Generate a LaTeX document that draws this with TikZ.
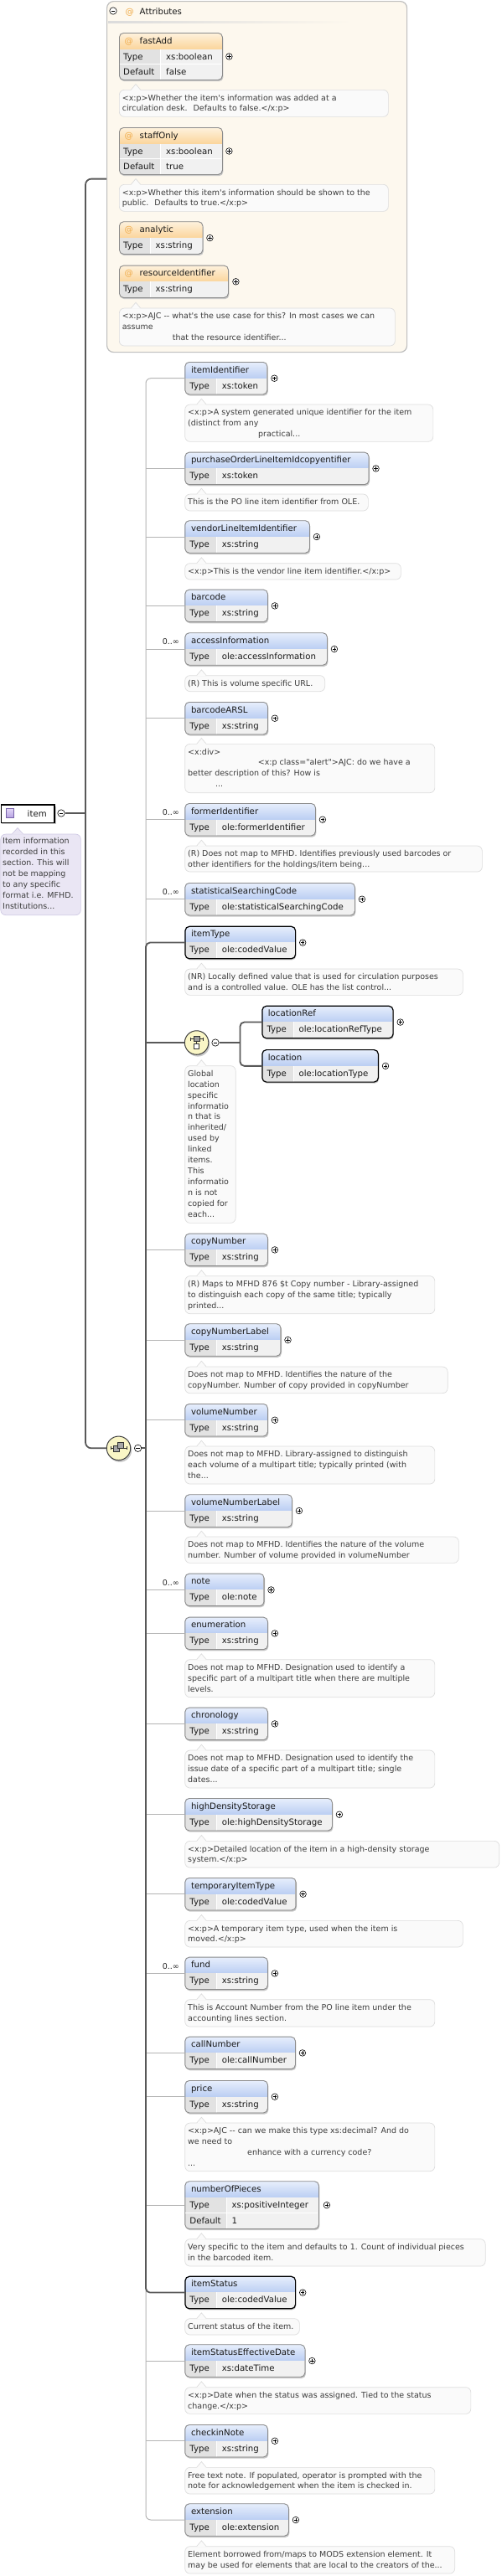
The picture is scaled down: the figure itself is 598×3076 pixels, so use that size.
\documentclass[tikz,border=0pt]{standalone}
\usepackage{fontspec}
\newfontfamily\dv{DejaVu Sans}
\usetikzlibrary{calc}
\definecolor{hdrTop}{RGB}{232,239,252}
\definecolor{hdrBot}{RGB}{188,207,243}
\definecolor{atTop}{RGB}{254,242,222}
\definecolor{atBot}{RGB}{251,214,158}
\definecolor{typec}{RGB}{226,226,226}
\definecolor{valc}{RGB}{241,241,241}
\definecolor{elemB}{RGB}{140,140,140}
\definecolor{shadowc}{RGB}{200,200,200}
\definecolor{descF}{RGB}{250,250,250}
\definecolor{descB}{RGB}{221,221,221}
\definecolor{descT}{RGB}{60,60,60}
\definecolor{attrF}{RGB}{253,248,238}
\definecolor{attrB}{RGB}{190,190,190}
\definecolor{idescF}{RGB}{234,230,244}
\definecolor{idescB}{RGB}{208,202,228}
\definecolor{connc}{RGB}{180,180,180}
\definecolor{trunkc}{RGB}{88,88,88}
\definecolor{choiceF}{RGB}{250,246,198}
\definecolor{atc}{RGB}{240,170,70}
\definecolor{purpT}{RGB}{226,214,246}
\definecolor{purpB}{RGB}{182,162,226}
\definecolor{purpD}{RGB}{120,100,170}

\newcommand\nfs{\dv\fontsize{10.2}{12.4}\selectfont}
\newcommand\dfs{\dv\fontsize{9.5}{12.9}\selectfont}
\newcommand\dl[1]{\hbox{#1}}

\tikzset{
  nf/.style={font=\nfs, anchor=base west, inner sep=0, text=black!90},
  conn/.style={draw=connc, line width=1},
  trunk/.style={draw=trunkc, line width=1.8},
  optb/.style={draw=elemB, line width=0.9},
  reqb/.style={draw=black, line width=1.2},
  hdrE/.style={top color=hdrTop, bottom color=hdrBot},
  hdrA/.style={top color=atTop, bottom color=atBot},
  plusc/.style={circle, draw=black, line width=0.6, inner sep=0, minimum size=7.6, fill=white,
    path picture={\draw[line width=0.6] ([xshift=-2.2pt]path picture bounding box.center) -- ([xshift=2.2pt]path picture bounding box.center);
                  \draw[line width=0.6] ([yshift=-2.2pt]path picture bounding box.center) -- ([yshift=2.2pt]path picture bounding box.center);}},
  minusc/.style={circle, draw=black, line width=0.6, inner sep=0, minimum size=8.4, fill=white,
    path picture={\draw[line width=0.7] ([xshift=-2.4pt]path picture bounding box.center) -- ([xshift=2.4pt]path picture bounding box.center);}},
  descbox/.style={draw=descB, fill=descF, line width=0.7, rounded corners=6, inner sep=0},
  idescbox/.style={draw=idescB, fill=idescF, line width=0.7, rounded corners=6, inner sep=0},
  iconc/.style={circle, draw=black!75, line width=1, fill=choiceF, minimum size=28.5, inner sep=0},
}

% #1 name #2 L #3 T #4 R #5 B #6 divider #7 header shading #8 border
\newcommand{\ebox}[8]{%
  \fill[shadowc, rounded corners=5, xshift=1.4pt, yshift=-2.2pt] (#2,#3) rectangle (#4,#5);
  \begin{scope}
    \clip[rounded corners=5] (#2,#3) rectangle (#4,#5);
    \fill[valc] (#2,#3) rectangle (#4,#5);
    \fill[typec] (#2,#3+19) rectangle (#6,#5);
    \shade[#7] (#2,#3) rectangle (#4,#3+19);
    \draw[white, line width=1] (#6,#3+19.5) -- (#6,#5);
  \end{scope}
  \node[#8, rounded corners=5, inner sep=0, minimum width={(#4)-(#2)}, minimum height={(#5)-(#3)}, anchor=north west] (#1) at (#2,#3) {};
}
% #1 name #2 T #3 R #4 title #5 type #6 border
\newcommand{\elem}[6]{%
  \ebox{#1}{220.4}{#2}{#3}{#2+38.5}{258.5}{hdrE}{#6}
  \node[nf] at (227.8,#2+13) {#4};
  \node[nf] at (226.2,#2+32) {Type};
  \node[nf] at (264.6,#2+32) {#5};
  \node[plusc] (#1p) at ($(#1.east)+(8,0)$) {};
}
% #1 name #2 L #3 T #4 R #5 B #6 lines
\newcommand{\desc}[6]{%
  \node[descbox, minimum width={(#4)-(#2)}, minimum height={(#5)-(#3)}, anchor=north west] (#1) at (#2,#3) {};
  \fill[descF] (#2+14.5,#3+0.8) -- (#2+20,#3-6.5) -- (#2+25.5,#3+0.8) -- cycle;
  \draw[descB, line width=0.7] (#2+14.5,#3) -- (#2+20,#3-6.5) -- (#2+25.5,#3);
  \node[anchor=base west, inner sep=0, text=descT] at (#2+3.6,#3+13) {\vtop{\dfs #6}};
}
\newcommand{\occ}[1]{\node[font=\dfs, anchor=base east, inner sep=0, text=black!85] at (214,#1+14.5) {0..∞};}

\begin{document}
\begin{tikzpicture}[x=1pt,y=-1pt]
\useasboundingbox (0,0) rectangle (598,3076);

% ---------- attributes container ----------
\node[draw=attrB, fill=attrF, line width=1.2, rounded corners=8, inner sep=0, minimum width=358, minimum height=419, anchor=north west] (attrs) at (127,1) {};
\shade[left color=black!14, right color=attrF] (129,25.6) rectangle (420,27);
\node[minusc] (attrm) at (135,13) {};
\node[nf, text=atc] at (149.5,17) {@};
\node[nf] at (166.5,17) {Attributes};

\ebox{fastAdd}{142}{39}{265}{95}{191.5}{hdrA}{optb}
\draw[white, line width=1] (142.6,76.8) -- (264.4,76.8);
\node[nf, text=atc] at (148.5,52) {@};
\node[nf] at (166.5,52) {fastAdd};
\node[nf] at (147,71) {Type}; \node[nf] at (198,71) {xs:boolean};
\node[nf] at (147,89.5) {Default}; \node[nf] at (198,89.5) {false};
\node[plusc] (fastAddp) at ($(fastAdd.east)+(7.5,0)$) {};
\desc{fastAddd}{142}{107}{463}{139}{\dl{<x:p>Whether the item's information was added at a}\dl{circulation desk.~ Defaults to false.</x:p>}}

\ebox{staffOnly}{142}{152}{265}{208}{191.5}{hdrA}{optb}
\draw[white, line width=1] (142.6,189.8) -- (264.4,189.8);
\node[nf, text=atc] at (148.5,165) {@};
\node[nf] at (166.5,165) {staffOnly};
\node[nf] at (147,184) {Type}; \node[nf] at (198,184) {xs:boolean};
\node[nf] at (147,202.5) {Default}; \node[nf] at (198,202.5) {true};
\node[plusc] (staffOnlyp) at ($(staffOnly.east)+(7.5,0)$) {};
\desc{staffOnlyd}{142}{220}{463}{252}{\dl{<x:p>Whether this item's information should be shown to the}\dl{public.~ Defaults to true.</x:p>}}

\ebox{analytic}{142}{264.3}{241.5}{303}{179}{hdrA}{optb}
\node[nf, text=atc] at (148.5,277.3) {@};
\node[nf] at (166.5,277.3) {analytic};
\node[nf] at (147,296.3) {Type}; \node[nf] at (185.5,296.3) {xs:string};
\node[plusc] (analyticp) at ($(analytic.east)+(8,0)$) {};

\ebox{resourceIdentifier}{142}{316.7}{272}{355}{179}{hdrA}{optb}
\node[nf, text=atc] at (148.5,329.7) {@};
\node[nf] at (166.5,329.7) {resourceIdentifier};
\node[nf] at (147,348.7) {Type}; \node[nf] at (185.5,348.7) {xs:string};
\node[plusc] (resourceIdentifierp) at ($(resourceIdentifier.east)+(8.5,0)$) {};
\desc{resd}{142}{367.7}{471}{412.7}{\dl{<x:p>AJC -- what's the use case for this? In most cases we can}\dl{assume}\dl{\hspace*{60pt}that the resource identifier...}}

% ---------- item ----------
\fill[shadowc] (2.4,962.6) rectangle (66.8,984.4);
\node[draw=black, line width=1.3, fill=white, minimum width=63.5, minimum height=21.7, anchor=north west, inner sep=0] (item) at (0.8,960.3) {};
\shadedraw[top color=purpT, bottom color=purpB, draw=purpD, line width=0.5] (7,965.7) rectangle (16,976.3);
\node[nf] at (32.5,975) {item};
\node[minusc] (itemm) at (73,971) {};
\node[idescbox, minimum width=95.5, minimum height=96.6, anchor=north west] (itemd) at (0.5,995.7) {};
\fill[idescF] (14.5,996.5) -- (21,988.5) -- (27.5,996.5) -- cycle;
\draw[idescB, line width=0.7] (14.5,995.7) -- (21,988.5) -- (27.5,995.7);
\node[anchor=base west, inner sep=0, text=descT] at (3,1007.7) {\vtop{\dfs\baselineskip=13pt
  \dl{Item information}\dl{recorded in this}\dl{section. This will}\dl{not be mapping}\dl{to any specific}\dl{format i.e. MFHD.}\dl{Institutions...}}};

% ---------- sequence icon ----------
\fill[shadowc] (142.9,1731.6) circle (14.3);
\node[iconc] (seq) at (141.5,1729.3) {};
\draw[line width=0.6, black!80] (132,1729.3) -- (151.5,1729.3);
\draw[line width=0.6, black!80] (132,1727.3) -- (132,1731.3) (151.5,1727.3) -- (151.5,1731.3);
\filldraw[fill=black!35, draw=black!80, line width=0.5] (135.2,1726.3) rectangle (142,1733.6);
\filldraw[fill=black!35, draw=black!80, line width=0.5] (140.6,1722.4) rectangle (147.4,1729.6);
\node[minusc] (seqm) at (164.6,1729.3) {};
\coordinate (seqj) at (174,1729.3);
\coordinate (mainj) at (102,971);

% ---------- sequence children ----------
\elem{itemIdentifier}{432}{318.5}{itemIdentifier}{xs:token}{optb}
\desc{d1}{220.4}{482.7}{516.5}{527}{\dl{<x:p>A system generated unique identifier for the item}\dl{(distinct from any}\dl{\hspace*{84pt}practical...}}
\elem{purchaseOrder}{539.7}{439.6}{purchaseOrderLineItemIdcopyentifier}{xs:token}{optb}
\desc{d2}{220.4}{589.7}{439}{609.7}{\dl{This is the PO line item identifier from OLE.}}
\elem{vendorLineItemIdentifier}{621.3}{369}{vendorLineItemIdentifier}{xs:string}{optb}
\desc{d3}{220.4}{672.3}{478}{691.7}{\dl{<x:p>This is the vendor line item identifier.</x:p>}}
\elem{barcode}{703.7}{319}{barcode}{xs:string}{optb}
\elem{accessInformation}{755.3}{390}{accessInformation}{ole:accessInformation}{optb}
\occ{755.3}
\desc{d4}{220.4}{806.3}{387.3}{825.3}{\dl{(R) This is volume specific URL.}}
\elem{barcodeARSL}{838}{319}{barcodeARSL}{xs:string}{optb}
\desc{d5}{220.4}{888}{518.5}{946.3}{\dl{<x:div>}\dl{\hspace*{83.7pt}<x:p class="alert">AJC: do we have a}\dl{better description of this? How is}\dl{\hspace*{33pt}...}}
\elem{formerIdentifier}{959}{376}{formerIdentifier}{ole:formerIdentifier}{optb}
\occ{959}
\desc{d6}{220.4}{1009.7}{575}{1040.7}{\dl{(R) Does not map to MFHD. Identifies previously used barcodes or}\dl{other identifiers for the holdings/item being...}}
\elem{statisticalSearchingCode}{1054}{423}{statisticalSearchingCode}{ole:statisticalSearchingCode}{optb}
\occ{1054}
\elem{itemType}{1105.7}{352}{itemType}{ole:codedValue}{reqb}
\desc{d7}{220.4}{1156.7}{552}{1188}{\dl{(NR) Locally defined value that is used for circulation purposes}\dl{and is a controlled value. OLE has the list control...}}

% choice
\fill[shadowc] (236,1247.3) circle (14.3);
\node[iconc] (choice) at (234.6,1245) {};
\draw[line width=0.6, black!80] (226.8,1240.6) -- (242.4,1240.6);
\draw[line width=0.6, black!80] (226.8,1238.6) -- (226.8,1242.6) (242.4,1238.6) -- (242.4,1242.6);
\filldraw[fill=black!40, draw=black!80, line width=0.5] (231.4,1237.6) rectangle (237.8,1243.6);
\draw[line width=0.5, black!80] (234.6,1243.6) -- (234.6,1245.8);
\filldraw[fill=white, draw=black!80, line width=0.5] (231.6,1245.8) rectangle (237.6,1252.2);
\node[minusc] (choicem) at (257,1245) {};
\coordinate (chj) at (286.5,1245);

\ebox{locationRef}{312.3}{1200.7}{468.5}{1239.2}{350}{hdrE}{reqb}
\node[nf] at (319.7,1213.7) {locationRef};
\node[nf] at (318.3,1232.7) {Type}; \node[nf] at (356.4,1232.7) {ole:locationRefType};
\node[plusc] (locationRefp) at ($(locationRef.east)+(8,0)$) {};
\ebox{location}{312.3}{1253}{450.8}{1291.5}{350}{hdrE}{reqb}
\node[nf] at (319.7,1266) {location};
\node[nf] at (318.3,1285) {Type}; \node[nf] at (356.4,1285) {ole:locationType};
\node[plusc] (locationp) at ($(location.east)+(8,0)$) {};
\desc{dch}{220.4}{1272.3}{280.8}{1460}{\dl{Global}\dl{location}\dl{specific}\dl{informatio}\dl{n that is}\dl{inherited/}\dl{used by}\dl{linked}\dl{items.}\dl{This}\dl{informatio}\dl{n is not}\dl{copied for}\dl{each...}}

\elem{copyNumber}{1472.7}{319}{copyNumber}{xs:string}{optb}
\desc{d8}{220.4}{1523.3}{518.5}{1568.3}{\dl{(R) Maps to MFHD 876 \$t Copy number - Library-assigned}\dl{to distinguish each copy of the same title; typically}\dl{printed...}}
\elem{copyNumberLabel}{1580.3}{334.6}{copyNumberLabel}{xs:string}{optb}
\desc{d9}{220.4}{1631.7}{533.8}{1663.3}{\dl{Does not map to MFHD. Identifies the nature of the}\dl{copyNumber. Number of copy provided in copyNumber}}
\elem{volumeNumber}{1676}{319}{volumeNumber}{xs:string}{optb}
\desc{d10}{220.4}{1726.7}{518.5}{1771.7}{\dl{Does not map to MFHD. Library-assigned to distinguish}\dl{each volume of a multipart title; typically printed (with}\dl{the...}}
\elem{volumeNumberLabel}{1784.3}{348}{volumeNumberLabel}{xs:string}{optb}
\desc{d11}{220.4}{1834.7}{547}{1866}{\dl{Does not map to MFHD. Identifies the nature of the volume}\dl{number. Number of volume provided in volumeNumber}}
\elem{note}{1878.7}{314.6}{note}{ole:note}{optb}
\occ{1878.7}
\elem{enumeration}{1930.7}{319}{enumeration}{xs:string}{optb}
\desc{d12}{220.4}{1981.3}{518.5}{2026.3}{\dl{Does not map to MFHD. Designation used to identify a}\dl{specific part of a multipart title when there are multiple}\dl{levels.}}
\elem{chronology}{2038.7}{319}{chronology}{xs:string}{optb}
\desc{d13}{220.4}{2089.7}{518.5}{2134.7}{\dl{Does not map to MFHD. Designation used to identify the}\dl{issue date of a specific part of a multipart title; single}\dl{dates...}}
\elem{highDensityStorage}{2147}{396}{highDensityStorage}{ole:highDensityStorage}{optb}
\desc{d14}{220.4}{2198}{595.4}{2229.7}{\dl{<x:p>Detailed location of the item in a high-density storage}\dl{system.</x:p>}}
\elem{temporaryItemType}{2242}{352.7}{temporaryItemType}{ole:codedValue}{optb}
\desc{d15}{220.4}{2293}{552}{2324.7}{\dl{<x:p>A temporary item type, used when the item is}\dl{moved.</x:p>}}
\elem{fund}{2336.7}{319}{fund}{xs:string}{optb}
\occ{2336.7}
\desc{d16}{220.4}{2387.3}{518.5}{2419.7}{\dl{This is Account Number from the PO line item under the}\dl{accounting lines section.}}
\elem{callNumber}{2431.7}{352}{callNumber}{ole:callNumber}{optb}
\elem{price}{2484}{319}{price}{xs:string}{optb}
\desc{d17}{220.4}{2534.7}{518.5}{2592.3}{\dl{<x:p>AJC -- can we make this type xs:decimal? And do}\dl{we need to}\dl{\hspace*{71pt}enhance with a currency code?}\dl{...}}

\ebox{numberOfPieces}{220.4}{2604.3}{380}{2661}{270.4}{hdrE}{optb}
\draw[white, line width=1] (221,2642.2) -- (379.4,2642.2);
\node[nf] at (227.8,2617.3) {numberOfPieces};
\node[nf] at (226.2,2636.7) {Type}; \node[nf] at (276.4,2636.7) {xs:positiveInteger};
\node[nf] at (226.2,2655.2) {Default}; \node[nf] at (276.4,2655.2) {1};
\node[plusc] (numberOfPiecesp) at ($(numberOfPieces.east)+(9,0)$) {};
\desc{d18}{220.4}{2673.3}{578.8}{2705.7}{\dl{Very specific to the item and defaults to 1. Count of individual pieces}\dl{in the barcoded item.}}
\elem{itemStatus}{2717.7}{352}{itemStatus}{ole:codedValue}{reqb}
\desc{d19}{220.4}{2768.3}{357}{2787.7}{\dl{Current status of the item.}}
\elem{itemStatusEffectiveDate}{2799.3}{363.5}{itemStatusEffectiveDate}{xs:dateTime}{optb}
\desc{d20}{220.4}{2850.3}{561.5}{2882}{\dl{<x:p>Date when the status was assigned. Tied to the status}\dl{change.</x:p>}}
\elem{checkinNote}{2895}{319}{checkinNote}{xs:string}{optb}
\desc{d21}{220.4}{2946}{518.5}{2977.7}{\dl{Free text note. If populated, operator is prompted with the}\dl{note for acknowledgement when the item is checked in.}}
\elem{extension}{2989.3}{344}{extension}{ole:extension}{optb}
\desc{d22}{220.4}{3040.3}{542.3}{3072.7}{\dl{Element borrowed from/maps to MODS extension element. It}\dl{may be used for elements that are local to the creators of the...}}

% ---------- connectors ----------
\draw[trunk, rounded corners=7] ([yshift=-2.5pt]attrs.west) -| (mainj) |- (seq.west);
\draw[trunk] (itemm.east) -- (mainj);
\draw[trunk] (seqm.east) -- (seqj);
\draw[conn, rounded corners=6] (itemIdentifier.west) -| (seqj) |- (extension.west);
\foreach \n in {purchaseOrder,vendorLineItemIdentifier,barcode,accessInformation,barcodeARSL,formerIdentifier,statisticalSearchingCode,copyNumber,copyNumberLabel,volumeNumber,volumeNumberLabel,note,enumeration,chronology,highDensityStorage,temporaryItemType,fund,callNumber,price,numberOfPieces,itemStatusEffectiveDate,checkinNote}
  \draw[conn] (\n.west) -- (\n.west -| seqj);
\draw[trunk, rounded corners=5] (itemType.west) -| (seqj) |- (itemStatus.west);
\draw[trunk] (choice.west) -- (choice.west -| seqj);
\draw[trunk] (choicem.east) -- (chj);
\draw[trunk, rounded corners=5] (locationRef.west) -| (chj) |- (location.west);
\end{tikzpicture}
\end{document}
